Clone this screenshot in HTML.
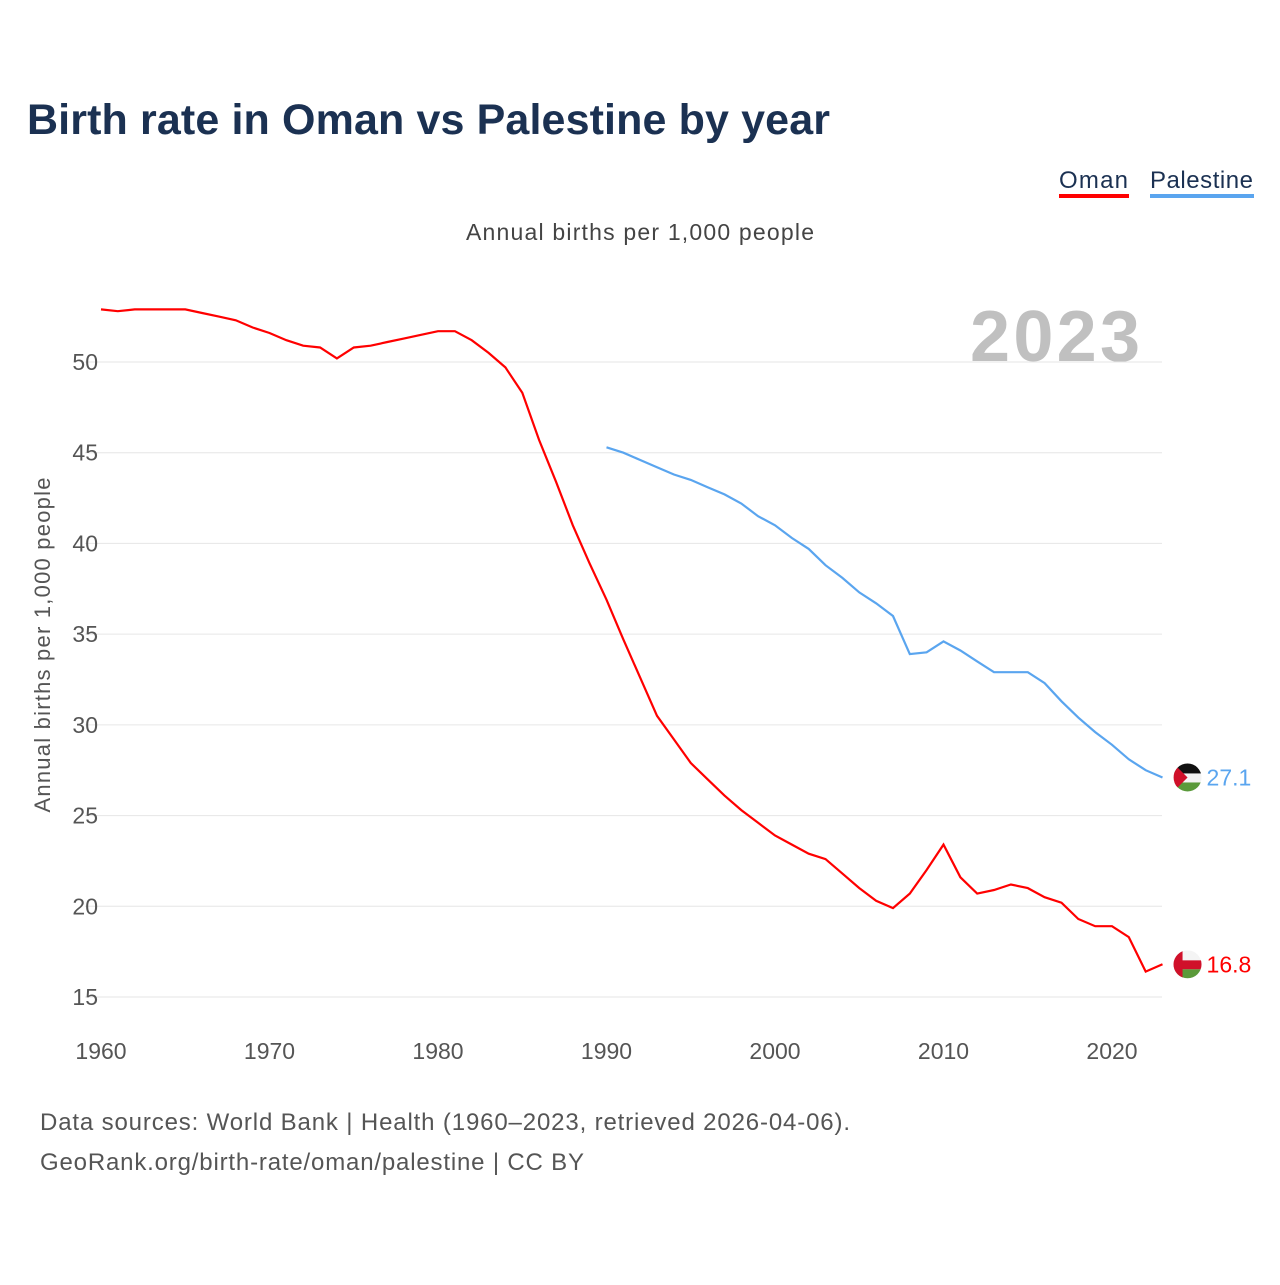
<!DOCTYPE html>
<html><head><meta charset="utf-8"><style>
body{margin:0;width:1280px;height:1280px;background:#fff;font-family:"Liberation Sans",sans-serif;overflow:hidden}
</style></head><body>
<svg width="1280" height="1280">
<defs>
<clipPath id="cpPal"><circle cx="0" cy="0" r="14"/></clipPath>
</defs>
<text x="27" y="134" font-size="43" font-weight="bold" fill="#1b3152" textLength="803">Birth rate in Oman vs Palestine by year</text>
<g><text x="1059" y="188" font-size="24" fill="#1b3152" textLength="69">Oman</text><rect x="1059" y="194" width="70" height="4" fill="#f00"/></g>
<g><text x="1150" y="188" font-size="24" fill="#1b3152" textLength="103">Palestine</text><rect x="1150" y="194" width="104" height="4" fill="#5aa5ef"/></g>
<text x="466" y="240" font-size="23" fill="#444" textLength="348">Annual births per 1,000 people</text>
<text x="1140" y="361" font-size="72" font-weight="bold" fill="#c0c0c0" text-anchor="end" textLength="170">2023</text>
<text transform="translate(50,645) rotate(-90)" font-size="22" fill="#555" text-anchor="middle" textLength="335">Annual births per 1,000 people</text>
<g id="grid"></g><g id="lines"></g>
<text x="40" y="1130" font-size="24" fill="#555" textLength="810">Data sources: World Bank | Health (1960–2023, retrieved 2026-04-06).</text>
<text x="40" y="1170" font-size="24" fill="#555" textLength="544">GeoRank.org/birth-rate/oman/palestine | CC BY</text>
</svg>
<script>
const yTicks=[15,20,25,30,35,40,45,50];
const xTicks=[1960,1970,1980,1990,2000,2010,2020];
const omanYears=[];for(let y=1960;y<=2023;y++)omanYears.push(y);
const omanValues=[52.9,52.8,52.9,52.9,52.9,52.9,52.7,52.5,52.3,51.9,51.6,51.2,50.9,50.8,50.2,50.8,50.9,51.1,51.3,51.5,51.7,51.7,51.2,50.5,49.7,48.3,45.7,43.4,41.0,38.9,36.9,34.7,32.6,30.5,29.2,27.9,27.0,26.1,25.3,24.6,23.9,23.4,22.9,22.6,21.8,21.0,20.3,19.9,20.7,22.0,23.4,21.6,20.7,20.9,21.2,21.0,20.5,20.2,19.3,18.9,18.9,18.3,16.4,16.8];
const palYears=[];for(let y=1990;y<=2023;y++)palYears.push(y);
const palValues=[45.3,45.0,44.6,44.2,43.8,43.5,43.1,42.7,42.2,41.5,41.0,40.3,39.7,38.8,38.1,37.3,36.7,36.0,33.9,34.0,34.6,34.1,33.5,32.9,32.9,32.9,32.3,31.3,30.4,29.6,28.9,28.1,27.5,27.1];
const X=y=>101+(y-1960)*1011/60;
const Y=v=>362+(50-v)*635/35;
const NS="http://www.w3.org/2000/svg";
const grid=document.getElementById('grid'),lines=document.getElementById('lines');
function mk(tag,at,par){const e=document.createElementNS(NS,tag);for(const k in at)e.setAttribute(k,at[k]);par.appendChild(e);return e;}
yTicks.forEach(v=>{
 const l=mk('line',{x1:85,x2:1162,y1:Y(v),y2:Y(v),stroke:'#e6e6e6','stroke-width':1},grid);
 
 
 const t=mk('text',{x:98,y:Y(v)+8,'font-size':23,fill:'#555','text-anchor':'end'},grid);t.textContent=v;
 
 
});
xTicks.forEach(v=>{
 const t=mk('text',{x:X(v),y:1059,'font-size':23,fill:'#555','text-anchor':'middle'},grid);t.textContent=v;
 
 
});
function flag(name,cx,cy){
 const g=mk('g',{transform:'translate('+cx+','+cy+')','clip-path':'url(#cpPal)'},lines);
 
 
 if(name==='palestine'){
  mk('rect',{x:-14,y:-14,width:28,height:10,fill:'#111'},g);
  mk('rect',{x:-14,y:-4,width:28,height:9,fill:'#f4f4f4'},g);
  mk('rect',{x:-14,y:5,width:28,height:9,fill:'#5a9a3a'},g);
  mk('path',{d:'M-14,-14 L0,0 L-14,14 Z',fill:'#d0102a'},g);
 }else{
  mk('rect',{x:-14,y:-14,width:28,height:10,fill:'#f4f4f4'},g);
  mk('rect',{x:-14,y:-4,width:28,height:9,fill:'#d0102a'},g);
  mk('rect',{x:-14,y:5,width:28,height:9,fill:'#5a9a3a'},g);
  mk('rect',{x:-14,y:-14,width:9,height:28,fill:'#d0102a'},g);
 }
}
function series(ys,vs,color,name){
 const p=mk('path',{d:ys.map((y,i)=>(i?'L':'M')+X(y).toFixed(1)+','+Y(vs[i]).toFixed(1)).join(''),fill:'none',stroke:color,'stroke-width':2.2},lines);
 
 
 const last=vs[vs.length-1],cx=X(ys[ys.length-1])+25,cy=Y(last);
 flag(name,cx,cy);
 const t=mk('text',{x:cx+19,y:cy+8,'font-size':23,fill:color},lines);t.textContent=last.toFixed(1);
 
 
}
series(palYears,palValues,'#5aa5ef','palestine');
series(omanYears,omanValues,'#ff0000','oman');
</script>
</body></html>
